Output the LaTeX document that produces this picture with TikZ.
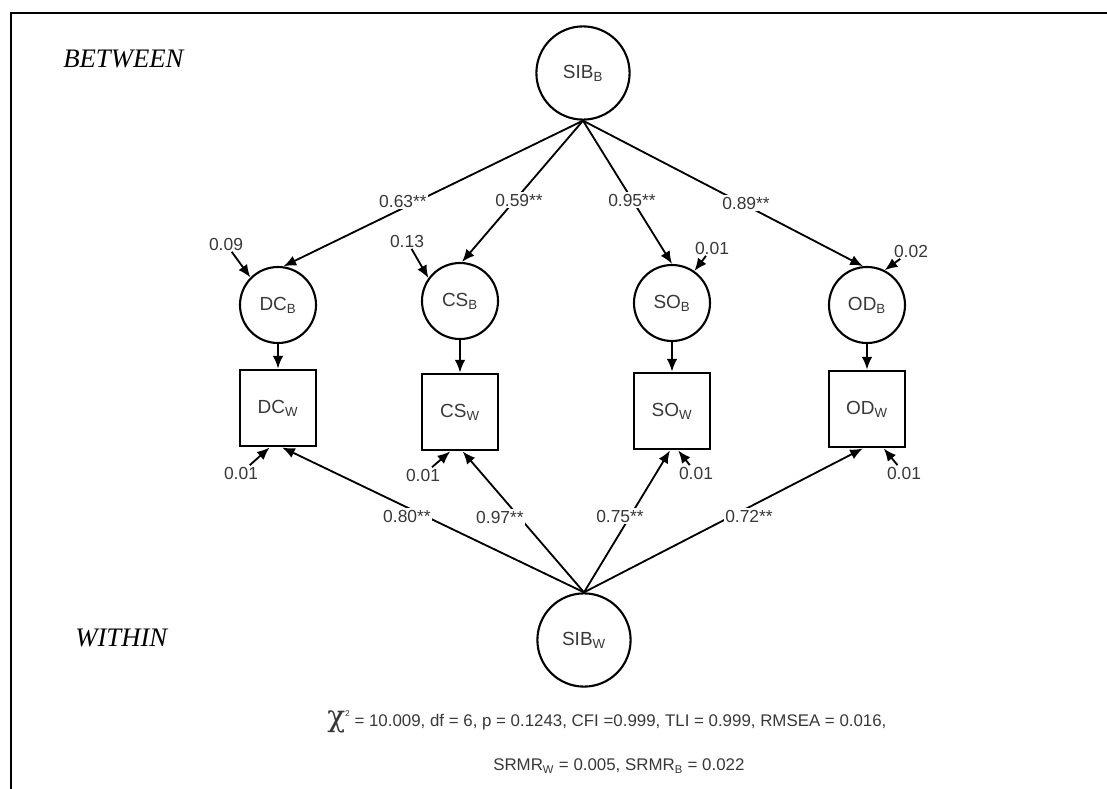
\documentclass[tikz,border=0pt]{standalone}
\usepackage{fontspec}
\setmainfont{Liberation Sans}
\newfontfamily\timesfont{Liberation Serif}
\newfontfamily\greekfont{DejaVu Serif}
\usetikzlibrary{arrows.meta, positioning, calc}
\definecolor{txtgray}{HTML}{383838}
\newcommand{\lvl}[1]{\textsubscript{#1}}

\begin{document}
\begin{tikzpicture}[x=0.025cm, y=-0.025cm,
    latent/.style={circle, draw, line width=1.5pt, minimum size=1.9cm, inner sep=0pt, text=txtgray, font=\fontsize{13.5}{15}\selectfont},
    toplatent/.style={latent, minimum size=2.33cm},
    observed/.style={rectangle, draw, line width=1.5pt, minimum size=1.92cm, inner sep=0pt, text=txtgray, font=\fontsize{13.5}{15}\selectfont},
    loading/.style={-{Latex[length=9pt,width=7.5pt]}, line width=1.3pt},
    coef/.style={fill=white, inner sep=1pt, text=txtgray, font=\fontsize{12.4}{14}\selectfont},
    resid/.style={inner sep=1pt, text=txtgray, font=\fontsize{12.4}{14}\selectfont},
    levelname/.style={inner sep=0pt, anchor=west, font=\timesfont\itshape\fontsize{19}{22}\selectfont},
    fitline/.style={inner sep=0pt, anchor=west, text=txtgray, font=\fontsize{12}{14}\selectfont}]
  \useasboundingbox (0,0) rectangle (1107,789);
  \draw[line width=1.6pt] (11,789) -- (11,13) -- (1107,13);

  % between level
  \node[levelname] (between) at (63,59) {BETWEEN};
  \node[toplatent] (SIBB) at (583,73) {SIB\lvl{B}};
  \node[latent] (DCB) at (278,305) {DC\lvl{B}};
  \node[latent] (CSB) at (460,301) {CS\lvl{B}};
  \node[latent] (SOB) at (672,303) {SO\lvl{B}};
  \node[latent] (ODB) at (867,305) {OD\lvl{B}};

  % observed indicators
  \node[observed] (DCW) at (278,408) {DC\lvl{W}};
  \node[observed] (CSW) at (460,412) {CS\lvl{W}};
  \node[observed] (SOW) at (672,411) {SO\lvl{W}};
  \node[observed] (ODW) at (867,409) {OD\lvl{W}};

  % within level
  \node[levelname] (within) at (75,638) {WITHIN};
  \node[toplatent] (SIBW) at (584,640) {SIB\lvl{W}};

  \draw[loading] (SIBB.south) -- (DCB.82);
  \draw[loading] (SIBB.south) -- (CSB.87);
  \draw[loading] (SIBB.south) -- (SOB.north);
  \draw[loading] (SIBB.south) -- (ODB.96);
  \foreach \v in {DC,CS,SO,OD}
    \draw[loading] (\v B.south) -- (\v W.north);
  \draw[loading] (SIBW.north) -- (DCW.-84);
  \draw[loading] (SIBW.north) -- (CSW.-86);
  \draw[loading] (SIBW.north) -- (SOW.-93);
  \draw[loading] (SIBW.north) -- (ODW.-96);

  \node[coef] (cDCB) at (403,201) {0.63**};
  \node[coef] (cCSB) at (519,200) {0.59**};
  \node[coef] (cSOB) at (632,200) {0.95**};
  \node[coef] (cODB) at (746,203) {0.89**};
  \node[coef] (cDCW) at (407,516) {0.80**};
  \node[coef] (cCSW) at (500,517) {0.97**};
  \node[coef] (cSOW) at (620,516) {0.75**};
  \node[coef] (cODW) at (749,516) {0.72**};

  % residuals
  \node[resid] (eDCB) at (226,244) {0.09};
  \node[resid] (eCSB) at (407,241) {0.13};
  \node[resid] (eSOB) at (712,248) {0.01};
  \node[resid] (eODB) at (911,251) {0.02};
  \node[resid] (eDCW) at (241,473) {0.01};
  \node[resid] (eCSW) at (423,475) {0.01};
  \node[resid] (eSOW) at (696,473) {0.01};
  \node[resid] (eODW) at (904,473) {0.01};
  \draw[loading] (eDCB) -- (DCB.135);
  \draw[loading] (eCSB) -- (CSB.144);
  \draw[loading] (eSOB) -- (SOB.55);
  \draw[loading] (eODB) -- (ODB.63);
  \draw[loading] (eDCW) -- (DCW.-102);
  \draw[loading] (eCSW) -- (CSW.-104);
  \draw[loading] (eSOW) -- (SOW.-81);
  \draw[loading] (eODW) -- (ODW.-67);

  % fit indices
  \node[fitline] (fitA) at (327,722) {{\greekfont\fontsize{21}{21}\selectfont χ}\raisebox{1.1ex}{\fontsize{6}{6}\selectfont 2} = 10.009, df = 6, p = 0.1243, CFI =0.999, TLI = 0.999, RMSEA = 0.016,};
  \node[fitline] (fitB) at (493,766) {SRMR\lvl{W} = 0.005, SRMR\lvl{B} = 0.022};
\end{tikzpicture}
\end{document}
